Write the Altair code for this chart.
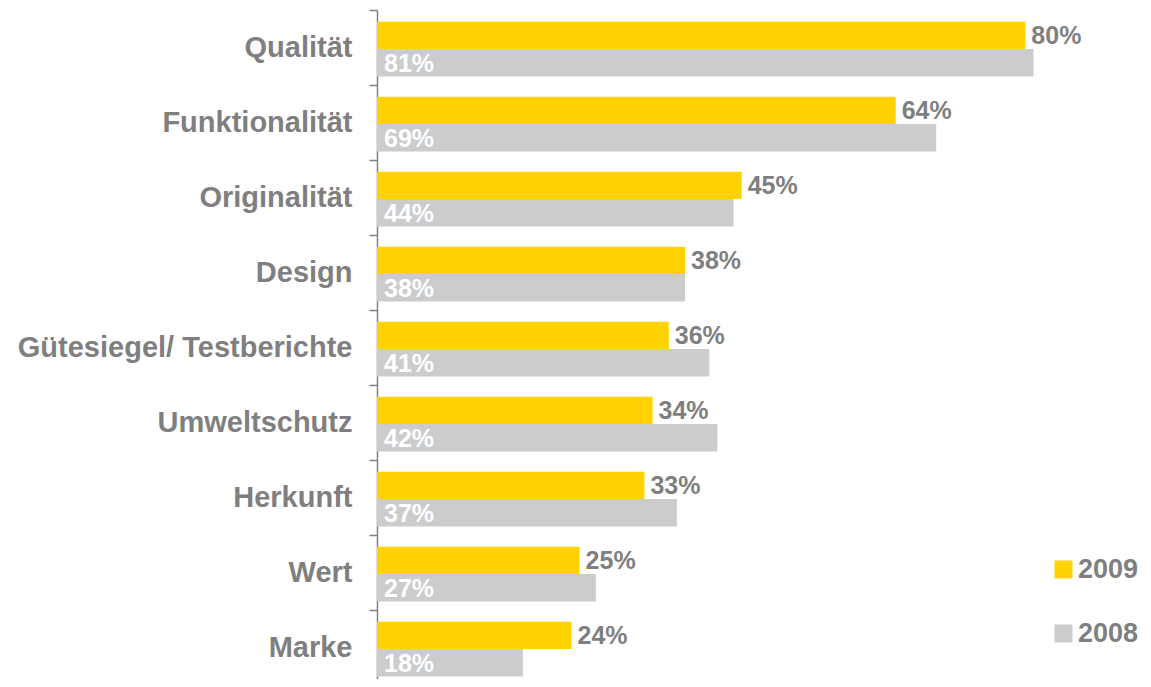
import altair as alt
import pandas as pd

categories = ["Qualität", "Funktionalität", "Originalität", "Design",
              "Gütesiegel/ Testberichte", "Umweltschutz", "Herkunft", "Wert", "Marke"]
values_2009 = [80, 64, 45, 38, 36, 34, 33, 25, 24]
values_2008 = [81, 69, 44, 38, 41, 42, 37, 27, 18]
years = ["2009", "2008"]
colors = ["#FFD200", "#CCCCCC"]

rows = []
for c, v9, v8 in zip(categories, values_2009, values_2008):
    rows.append({"cat": c, "year": "2009", "value": v9, "label": f"{v9}%"})
    rows.append({"cat": c, "year": "2008", "value": v8, "label": f"{v8}%"})
df = pd.DataFrame(rows)

FONT = "Liberation Sans"
GREY = "#7F7F7F"

y_enc = alt.Y("cat:N", sort=categories,
              scale=alt.Scale(paddingInner=0, paddingOuter=0, range=[0, 675]),
              axis=alt.Axis(title=None, domainColor="#808080", domainWidth=1.5,
                            tickColor="#808080", tickWidth=1.5, tickSize=8,
                            tickBand="extent", labelFontSize=29, labelFont=FONT,
                            labelFontWeight="bold", labelColor=GREY,
                            labelPadding=17, labelLimit=0))
yoff = alt.YOffset("year:N", sort=years,
                   scale=alt.Scale(paddingInner=0, paddingOuter=0.37, align=0.58))
x_enc = alt.X("value:Q", scale=alt.Scale(domain=[0, 86], nice=False), axis=None)

base = alt.Chart(df)

bars = base.mark_bar().encode(
    y=y_enc, yOffset=yoff, x=x_enc,
    color=alt.Color("year:N", sort=years,
                    scale=alt.Scale(domain=years, range=colors),
                    legend=alt.Legend(title=None, orient="none", legendX=673, legendY=546,
                                      symbolType="square", symbolSize=324,
                                      symbolStrokeWidth=0, labelFont=FONT,
                                      labelFontSize=27, labelFontWeight="bold",
                                      labelColor=GREY, labelOffset=1, rowPadding=36,
                                      padding=0))
)

t2009 = base.transform_filter(alt.datum.year == "2009").mark_text(
    align="left", baseline="middle", dx=6, dy=1, font=FONT, fontSize=25,
    fontWeight="bold", color=GREY
).encode(y=y_enc, yOffset=yoff, x=x_enc, text="label:N")

t2008 = base.transform_filter(alt.datum.year == "2008").mark_text(
    align="left", baseline="middle", dy=1, font=FONT, fontSize=25,
    fontWeight="bold", color="white"
).encode(y=y_enc, yOffset=yoff, x=alt.value(7), text="label:N")

chart = alt.layer(bars, t2009, t2008).properties(
    width=697, height=669,
    autosize=alt.AutoSizeParams(type="none"),
    padding={"left": 369, "top": 2, "right": 68, "bottom": 0},
).configure_view(stroke=None)

chart.save("out.html", embed_options={"renderer": "svg", "actions": False})
